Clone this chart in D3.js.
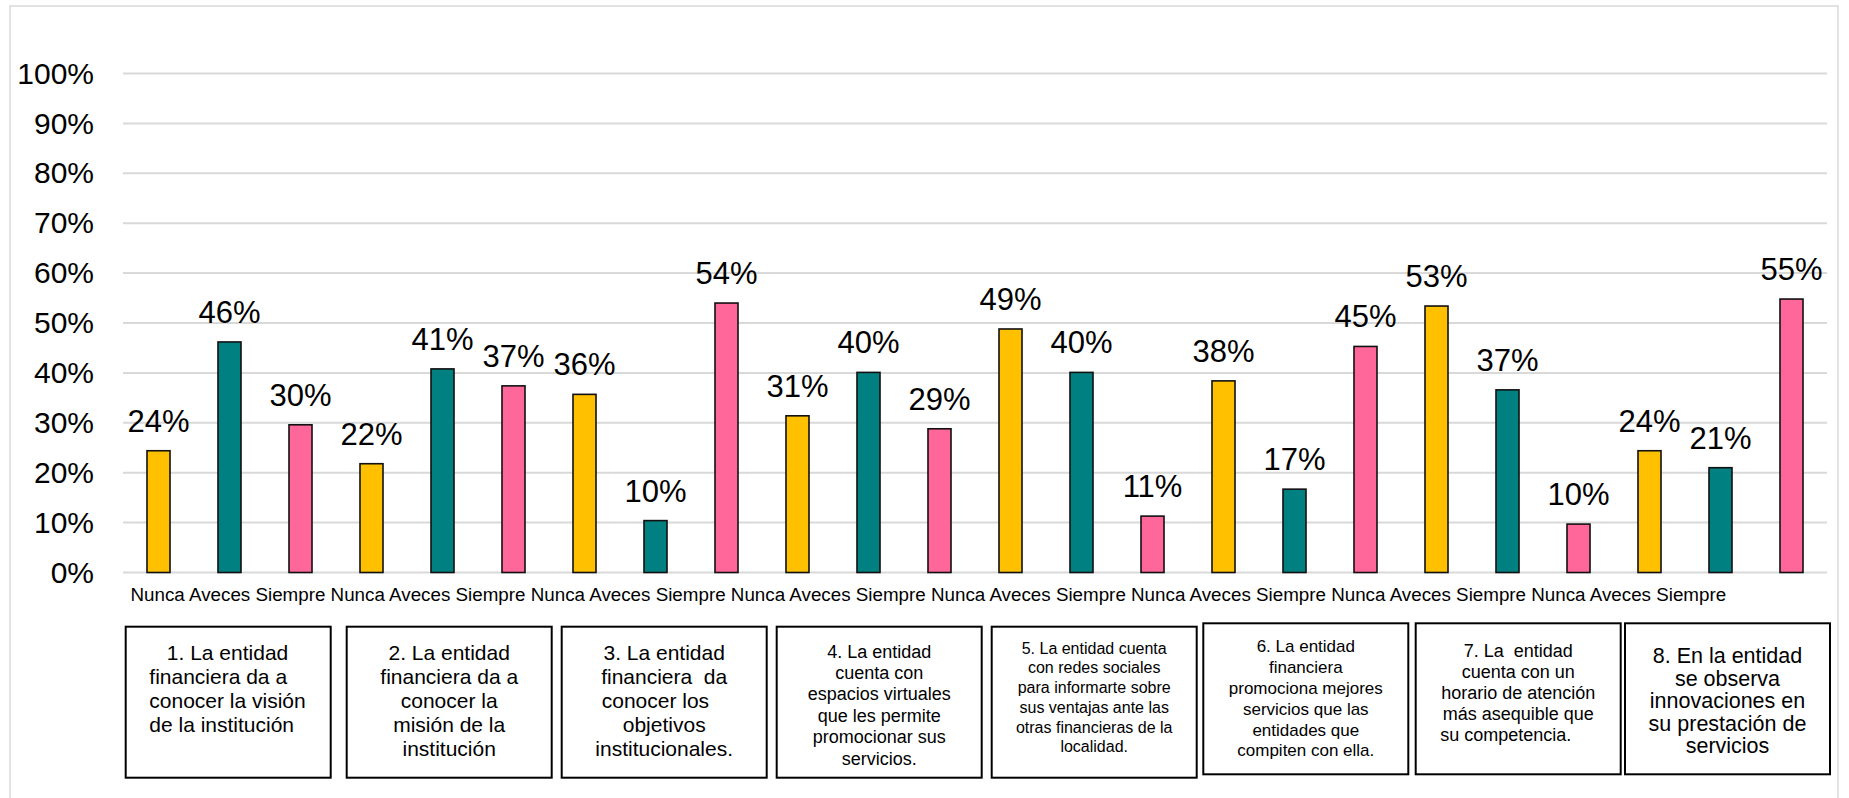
<!DOCTYPE html>
<html>
<head>
<meta charset="utf-8">
<script src="https://cdn.jsdelivr.net/npm/d3@7"></script>
<style>
  body { margin: 0; background: #fff; }
  svg { display: block; }
  text { font-family: "Liberation Sans", Arial, sans-serif; fill: #000; }
</style>
</head>
<body>
<svg id="chart" width="1849" height="798"></svg>
<script>
// ---- data ----
const questions = ["P1", "P2", "P3", "P4", "P5", "P6", "P7", "P8"];
const answers = ["Nunca", "Aveces", "Siempre"];
// share of responses (%) per question
const nunca   = [24.4, 21.8, 35.7, 31.4, 48.8, 38.4, 53.4, 24.4];
const aveces  = [46.2, 40.8, 10.4, 40.1, 40.1, 16.7, 36.6, 21.0];
const siempre = [29.6, 37.4, 54.0, 28.8, 11.3, 45.3,  9.7, 54.8];
const yTicks = [0, 0.1, 0.2, 0.3, 0.4, 0.5, 0.6, 0.7, 0.8, 0.9, 1.0];

const questionText = [
  ["   1. La entidad", "financiera da a", "conocer la visión", "de la institución"],
  ["2. La entidad", "financiera da a", "conocer la", "misión de la", "institución"],
  ["3. La entidad", "financiera  da", "conocer los   ", "objetivos", "institucionales."],
  ["4. La entidad", "cuenta con", "espacios virtuales", "que les permite", "promocionar sus", "servicios."],
  ["5. La entidad cuenta", "con redes sociales", "para informarte sobre", "sus ventajas ante las", "otras financieras de la", "localidad."],
  ["6. La entidad", "financiera", "promociona mejores", "servicios que las", "entidades que", "compiten con ella."],
  ["7. La  entidad", "cuenta con un", "horario de atención", "más asequible que", "su competencia.     "],
  ["8. En la entidad", "se observa", "innovaciones en", "su prestación de", "servicios"]
];

// ---- layout ----
const W = 1849, H = 798;
const plot = { left: 123, right: 1827, top: 73.5, bottom: 572.5 };
const colors = { Nunca: "#FFC000", Aveces: "#008080", Siempre: "#FF6699" };
const grid = "#d9d9d9";

const series = [nunca, aveces, siempre];
const rows = questions.flatMap((q, i) =>
  answers.map((a, j) => ({ key: q + "-" + a, answer: a, value: series[j][i] / 100 })));

const svg = d3.select("#chart");

// outer frame
svg.append("rect")
  .attr("x", 10).attr("y", 6).attr("width", 1828).attr("height", 840)
  .attr("fill", "none").attr("stroke", grid).attr("stroke-width", 1.5);

const x = d3.scaleBand()
  .domain(rows.map(d => d.key))
  .range([plot.left, plot.right])
  .paddingInner(0.676).paddingOuter(0.338);

const y = d3.scaleLinear().domain([0, 1]).range([plot.bottom, plot.top]);

// gridlines
svg.append("g").selectAll("line").data(yTicks).join("line")
  .attr("x1", plot.left).attr("x2", plot.right)
  .attr("y1", d => y(d)).attr("y2", d => y(d))
  .attr("stroke", grid).attr("stroke-width", 2);

// y axis labels
const yAxis = svg.append("g")
  .attr("transform", `translate(${plot.left},0)`)
  .call(d3.axisLeft(y).tickValues(yTicks).tickFormat(d3.format(".0%")).tickSize(0).tickPadding(29));
yAxis.select(".domain").remove();
yAxis.selectAll("text")
  .style("font-family", "'Liberation Sans', Arial, sans-serif")
  .style("font-size", "30px").attr("fill", "#000");

// bars
svg.append("g").selectAll("rect").data(rows).join("rect")
  .attr("x", d => x(d.key))
  .attr("width", x.bandwidth())
  .attr("y", d => y(d.value))
  .attr("height", d => y(0) - y(d.value))
  .attr("fill", d => colors[d.answer])
  .attr("stroke", "#111").attr("stroke-width", 1.6);

// value labels
svg.append("g").selectAll("text").data(rows).join("text")
  .attr("x", d => x(d.key) + x.bandwidth() / 2)
  .attr("y", d => y(d.value) - 19)
  .attr("text-anchor", "middle")
  .style("font-size", "31px")
  .text(d => Math.round(d.value * 100) + "%");

// answer labels under the axis
const catLine = svg.append("text")
  .attr("x", 130.5).attr("y", 601)
  .style("font-size", "18.8px")
  .attr("xml:space", "preserve").style("white-space", "pre");
catLine.selectAll("tspan").data(rows).join("tspan")
  .text((d, i) => (i ? " " : "") + d.answer);

// question boxes
const boxLeft = [125.7, 346.7, 561.7, 776.7, 991.7, 1203.3, 1415.7, 1625];
const boxTop  = [626.7, 626.7, 626.7, 626.7, 626.7, 623.3, 623.3, 623.3];
const boxW = 205, boxH = 151;
const boxFont = [
  { size: 21,   step: 24,   base: 660,   anchor: "start", dx: 23.6 },
  { size: 21,   step: 24,   base: 660 },
  { size: 21,   step: 24,   base: 660 },
  { size: 18,   step: 21.4, base: 657.5 },
  { size: 16,   step: 19.7, base: 653.7 },
  { size: 17,   step: 20.8, base: 652.3 },
  { size: 18,   step: 21.1, base: 656.7 },
  { size: 21.5, step: 22.5, base: 663.3 }
];

const boxes = svg.append("g").selectAll("g").data(questionText).join("g");
boxes.append("rect")
  .attr("x", (d, i) => boxLeft[i]).attr("y", (d, i) => boxTop[i])
  .attr("width", boxW).attr("height", boxH)
  .attr("fill", "#fff").attr("stroke", "#000").attr("stroke-width", 2);
boxes.each(function (lines, i) {
  const f = boxFont[i];
  const anchor = f.anchor || "middle";
  const tx = anchor === "start" ? boxLeft[i] + f.dx : boxLeft[i] + boxW / 2;
  d3.select(this).append("text")
    .attr("text-anchor", anchor)
    .attr("xml:space", "preserve").style("white-space", "pre")
    .style("font-size", f.size + "px")
    .selectAll("tspan").data(lines).join("tspan")
    .attr("x", tx)
    .attr("y", (l, k) => f.base + k * f.step)
    .text(l => l);
});
</script>
</body>
</html>
